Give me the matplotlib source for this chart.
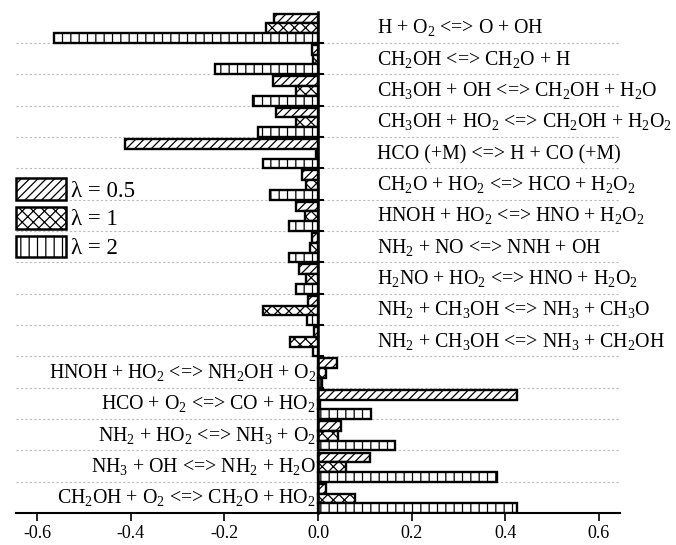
import re
import numpy as np
import matplotlib
matplotlib.use("Agg")
import matplotlib.pyplot as plt
from matplotlib import transforms

plt.rcParams['font.family'] = ['Liberation Serif', 'DejaVu Serif']
plt.rcParams['mathtext.fontset'] = 'custom'
plt.rcParams['mathtext.rm'] = 'Liberation Serif'
plt.rcParams['hatch.color'] = 'black'
plt.rcParams['hatch.linewidth'] = 0.9

reactions = [
    "H + O_2 <=> O + OH",
    "CH_2OH <=> CH_2O + H",
    "CH_3OH + OH <=> CH_2OH + H_2O",
    "CH_3OH + HO_2 <=> CH_2OH + H_2O_2",
    "HCO (+M) <=> H + CO (+M)",
    "CH_2O + HO_2 <=> HCO + H_2O_2",
    "HNOH + HO_2 <=> HNO + H_2O_2",
    "NH_2 + NO <=> NNH + OH",
    "H_2NO + HO_2 <=> HNO + H_2O_2",
    "NH_2 + CH_3OH <=> NH_3 + CH_3O",
    "NH_2 + CH_3OH <=> NH_3 + CH_2OH",
    "HNOH + HO_2 <=> NH_2OH + O_2",
    "HCO + O_2 <=> CO + HO_2",
    "NH_2 + HO_2 <=> NH_3 + O_2",
    "NH_3 + OH <=> NH_2 + H_2O",
    "CH_2OH + O_2 <=> CH_2O + HO_2",
]
lam05 = [-0.094, -0.013, -0.097, -0.090, -0.413, -0.035, -0.046, -0.013, -0.041,
         -0.021, -0.009, 0.041, 0.424, 0.050, 0.111, 0.018]
lam1 = [-0.111, -0.010, -0.047, -0.047, -0.004, -0.026, -0.027, -0.017, -0.025,
        -0.117, -0.060, 0.018, 0.004, 0.043, 0.059, 0.079]
lam2 = [-0.564, -0.220, -0.138, -0.129, -0.118, -0.102, -0.061, -0.061, -0.047,
        -0.023, -0.010, 0.008, 0.113, 0.164, 0.382, 0.424]
series_labels = ["\u03bb = 0.5", "\u03bb = 1", "\u03bb = 2"]
xticks = [-0.6, -0.4, -0.2, 0.0, 0.2, 0.4, 0.6]

def chem(s):
    return re.sub(r'_(\d)', r'$_\\mathregular{\1}$', s)

fig = plt.figure(figsize=(6.76, 5.45), dpi=100)
ax = fig.add_axes([16/676, 32/545, (620-16)/676, (513-11.5)/545])

n = len(reactions)
y = np.arange(n)
h = 0.31
offs = [-0.275, 0.035, 0.345]
hatches = ['////', 'xxx', '||']
for vals, off, hat, lab in zip([lam05, lam1, lam2], offs, hatches, series_labels):
    ax.barh(y + off, vals, height=h, color='white', edgecolor='black',
            linewidth=1.7, hatch=hat, label=lab, zorder=3)

ax.set_ylim(n - 0.5, -0.5)
ax.set_xlim(-0.645, 0.645)

# gridlines at group boundaries
bounds = np.arange(n - 1) + 0.5
for b in bounds:
    ax.axhline(b, color='#bbbbbb', lw=0.8, ls=(0, (2, 2)), zorder=1)

ax.spines['left'].set_position(('data', 0))
ax.spines['left'].set_linewidth(1.8)
ax.spines['left'].set_zorder(5)
ax.spines['bottom'].set_linewidth(1.5)
ax.spines['right'].set_visible(False)
ax.spines['top'].set_visible(False)
ax.set_yticks(bounds)
ax.set_yticklabels([])
ax.tick_params(axis='y', direction='in', length=4, width=1.5)
ax.set_xticks(xticks)
ax.set_xticklabels([f"{t:.1f}" for t in xticks])
ax.tick_params(axis='x', direction='out', length=6, width=1.2, labelsize=13, pad=3)

fs = 14.3
base = transforms.offset_copy(ax.transData, fig=fig, x=0, y=-0.34 * fs, units='points')
for i, r in enumerate(reactions):
    if i < 11:
        ax.text(0.125, i, chem(r), fontsize=fs, ha='left', va='baseline', transform=base, zorder=4)
    else:
        ax.text(-0.004, i, chem(r), fontsize=fs, ha='right', va='baseline', transform=base, zorder=4)

lfs = 16.5
leg = ax.legend(loc='upper left', bbox_to_anchor=(16/676, 1 - 178/545),
                bbox_transform=fig.transFigure, frameon=False, fontsize=lfs,
                handlelength=2.18, handleheight=1.09, handletextpad=0.2,
                labelspacing=0.22, borderpad=0, borderaxespad=0)
for p in leg.get_patches():
    p.set_linewidth(1.8)

fig.savefig("out.png", dpi=100)
